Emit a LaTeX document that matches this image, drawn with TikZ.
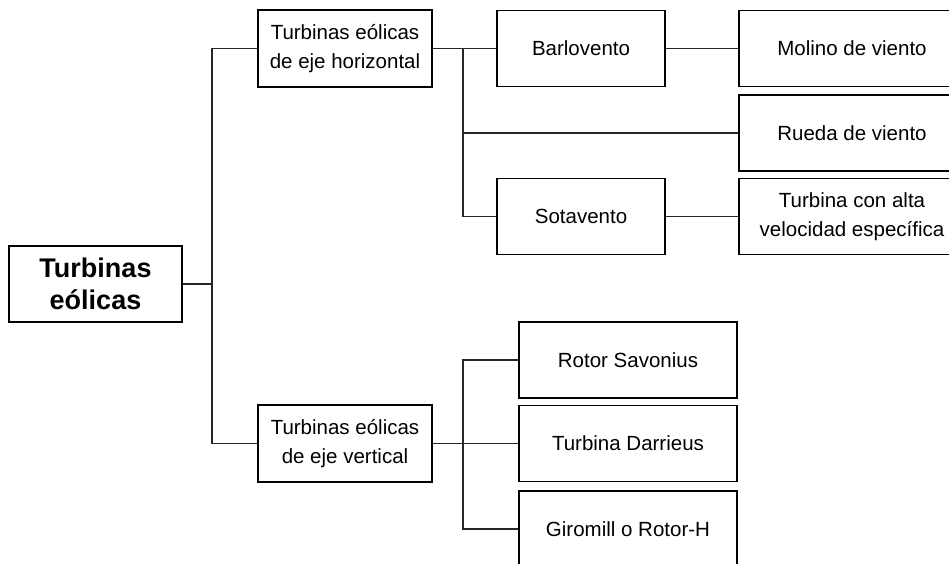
\documentclass[tikz,border=0pt]{standalone}
\usepackage{fontspec}
\setmainfont{Liberation Sans}
\tikzset{
  box/.style={draw=black, line width=1.4pt, fill=white, align=center, inner sep=0pt,
    font=\fontsize{20.5}{29}\selectfont},
  rootbox/.style={box, font=\bfseries\fontsize{27}{32}\selectfont},
  link/.style={draw=black!85, line width=1.1pt},
}
\begin{document}
\begin{tikzpicture}[x=1pt,y=-1pt]
  \useasboundingbox (0,0) rectangle (949,563);
  \clip (0,0) rectangle (949,563);
  \def\Hb{76pt}
  % root and the two families
  \node[rootbox, minimum width=173pt, minimum height=\Hb] (root) at (95.5,284) {Turbinas\\eólicas};
  \node[box, minimum width=174pt, minimum height=77pt] (hor) at (345,48.5) {Turbinas eólicas\\de eje horizontal};
  \node[box, minimum width=174pt, minimum height=77pt] (ver) at (345,443.5) {Turbinas eólicas\\de eje vertical};
  % horizontal axis
  \node[box, minimum width=168pt, minimum height=\Hb] (barl) at (581,48.5) {Barlovento};
  \node[box, minimum width=168pt, minimum height=\Hb] (sota) at (581,216.5) {Sotavento};
  \node[box, minimum width=226pt, minimum height=\Hb] (molino) at (852,48.5) {Molino de viento};
  \node[box, minimum width=226pt, minimum height=\Hb] (rueda) at (852,133) {Rueda de viento};
  \node[box, minimum width=226pt, minimum height=\Hb] (alta) at (852,216.5) {Turbina con alta\\velocidad específica};
  % vertical axis
  \node[box, minimum width=218pt, minimum height=\Hb] (savo) at (628,360) {Rotor Savonius};
  \node[box, minimum width=218pt, minimum height=\Hb] (darr) at (628,443.5) {Turbina Darrieus};
  \node[box, minimum width=218pt, minimum height=\Hb] (giro) at (628,529) {Giromill o Rotor-H};
  % junctions
  \coordinate (j1) at (212,284);
  \coordinate (j2) at (463,48.5);
  \coordinate (j3) at (463,443.5);
  \draw[link] (root.east) -- (j1);
  \draw[link] (j1) |- (hor.west);
  \draw[link] (j1) |- (ver.west);
  \draw[link] (hor.east) -- (barl.west);
  \draw[link] (barl.east) -- (molino.west);
  \draw[link] (j2) |- (rueda.west);
  \draw[link] (j2) |- (sota.west);
  \draw[link] (sota.east) -- (alta.west);
  \draw[link] (ver.east) -- (darr.west);
  \draw[link] (j3) |- (savo.west);
  \draw[link] (j3) |- (giro.west);
\end{tikzpicture}
\end{document}
